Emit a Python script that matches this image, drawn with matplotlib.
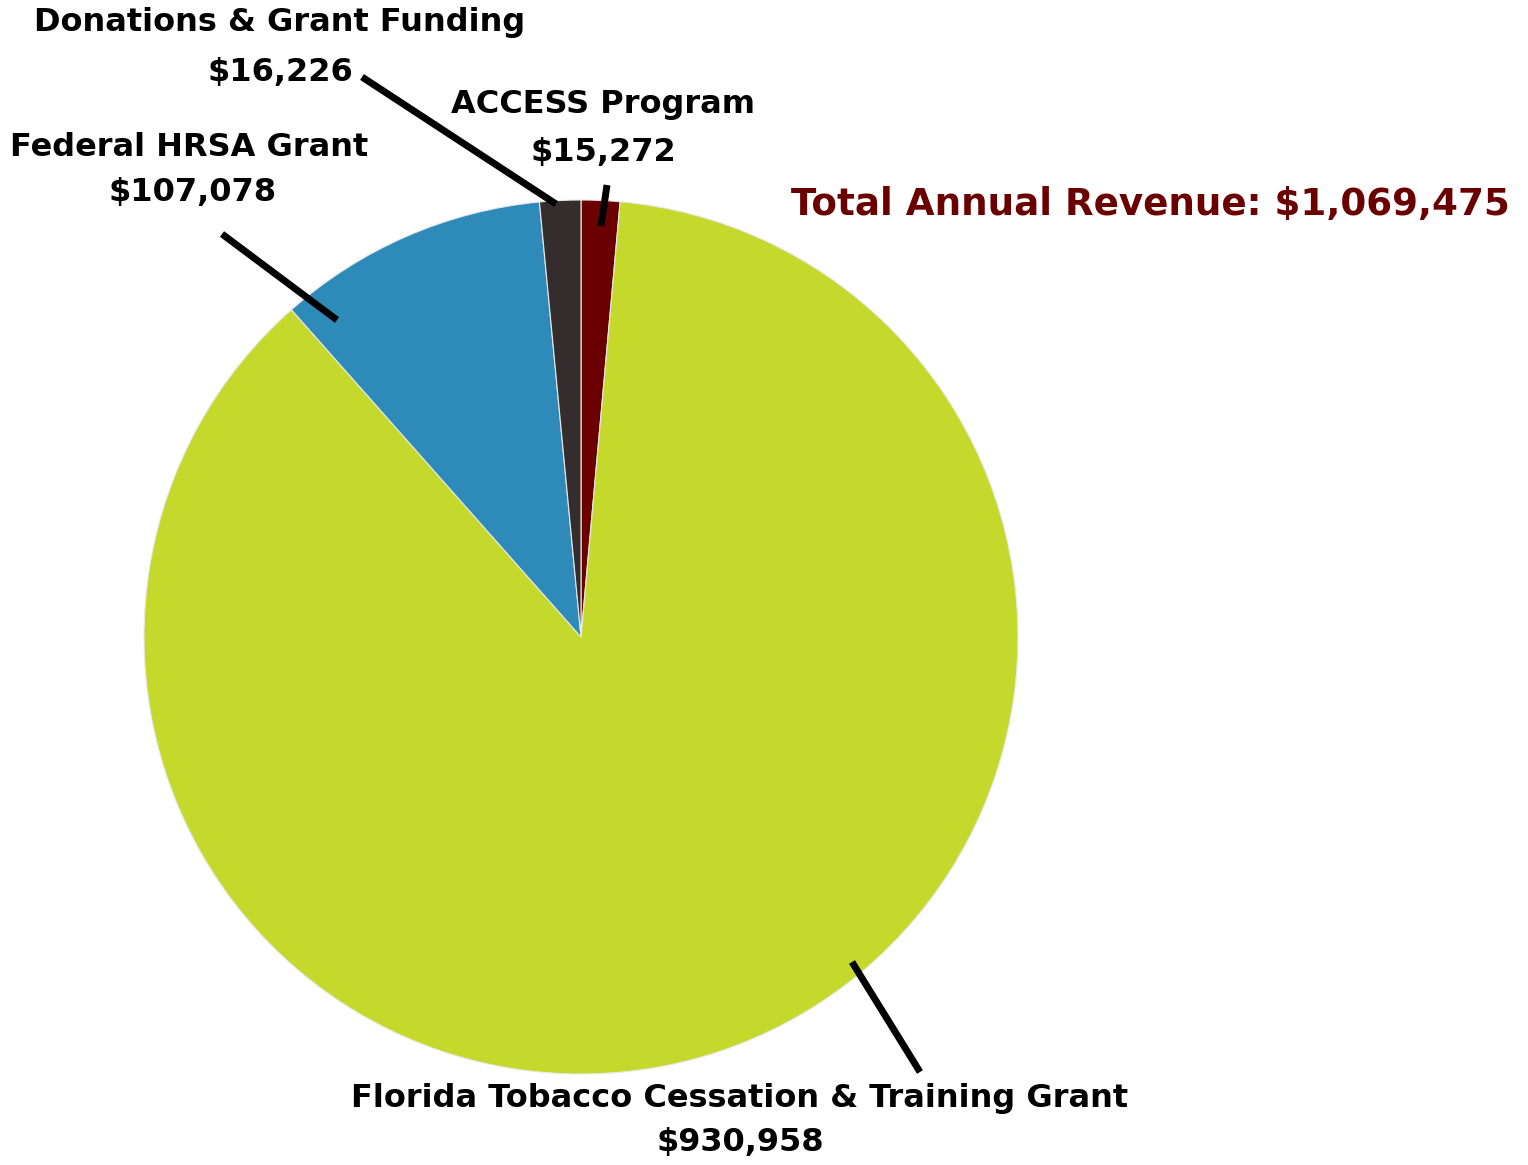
import matplotlib
matplotlib.use('Agg')
import matplotlib.pyplot as plt

# revenue sources, clockwise from 12 o'clock
labels = ['ACCESS Program', 'Florida Tobacco Cessation & Training Grant',
          'Federal HRSA Grant', 'Donations & Grant Funding']
values = [15272, 930958, 107078, 16226]
amounts = ['$15,272', '$930,958', '$107,078', '$16,226']
colors = ['#6B0000', '#C5D92D', '#2E8AB8', '#352D2D']
total_text = 'Total Annual Revenue: $1,069,475'

W, H = 1528, 1165
fig = plt.figure(figsize=(W / 100, H / 100), dpi=100)
ax = fig.add_axes([0, 0, 1, 1])

ax.pie(values, colors=colors, startangle=90, counterclock=False,
       center=(581, H - 637), radius=437, frame=True,
       wedgeprops=dict(edgecolor='#E8E8E8', linewidth=0.8))
ax.set_xlim(0, W)
ax.set_ylim(0, H)
ax.set_aspect('equal')
ax.axis('off')

font = dict(family='DejaVu Sans', fontweight='bold', fontsize=23,
            color='black', ha='center', va='center')

# label positions (px from top) and leader lines
label_pos = {
    0: ((603, 105), (603, 152), ((607, 185), (601, 226))),
    1: ((740, 1098), (740, 1143), ((852, 962), (920, 1072))),
    2: ((189, 147), (193, 193), ((222, 234), (337, 320))),
    3: ((280, 22), (280, 72), ((362, 77), (556, 204))),
}
for i, (p1, p2, line) in label_pos.items():
    ax.text(p1[0], H - p1[1], labels[i], **font)
    ax.text(p2[0], H - p2[1], amounts[i], **font)
    (x0, y0), (x1, y1) = line
    ax.plot([x0, x1], [H - y0, H - y1], color='black', lw=5,
            solid_capstyle='butt')

ax.text(1150, H - 204, total_text, family='DejaVu Sans', fontweight='bold',
        fontsize=26.8, color='#6B0000', ha='center', va='center')

fig.savefig('out.png', dpi=100)
